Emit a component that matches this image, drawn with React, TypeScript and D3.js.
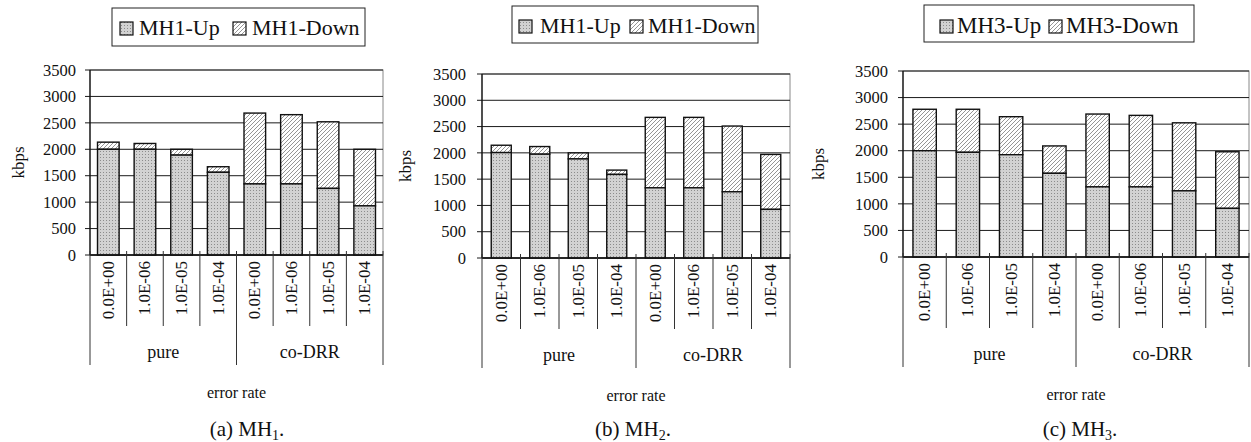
import React from "react";
import * as d3 from "d3";

const categories = ["0.0E+00", "1.0E-06", "1.0E-05", "1.0E-04", "0.0E+00", "1.0E-06", "1.0E-05", "1.0E-04"];
const groups = ["pure", "co-DRR"];
const yTicks = [0, 500, 1000, 1500, 2000, 2500, 3000, 3500];

const mh1Up = [2000, 2000, 1890, 1565, 1345, 1345, 1260, 930];
const mh1Down = [135, 110, 110, 105, 1340, 1310, 1260, 1070];
const mh2Up = [2005, 1975, 1885, 1590, 1335, 1335, 1260, 925];
const mh2Down = [140, 145, 115, 82, 1340, 1340, 1250, 1045];
const mh3Up = [2000, 1970, 1925, 1575, 1320, 1320, 1245, 915];
const mh3Down = [780, 810, 715, 515, 1370, 1345, 1280, 1065];

const legendA = ["MH1-Up", "MH1-Down"];
const legendB = ["MH1-Up", "MH1-Down"];
const legendC = ["MH3-Up", "MH3-Down"];

const SERIF = '"Liberation Serif", "Times New Roman", "DejaVu Serif", serif';
const fs = (size: number): React.CSSProperties => ({ fontFamily: SERIF, fontSize: `${size}px` });

type PanelCfg = {
  up: number[];
  down: number[];
  legend: string[];
  letter: string;
  sub: string;
  left: number;
  right: number;
  top: number;
  bottom: number;
  pad: number;
  legendBox: { x: number; y: number; w: number; h: number };
  legendItems: number[];
  legendText: number[];
  legendFont: number;
  legendBase: number;
  ylabX: number;
  tickRight: number;
  captionX: number;
};

function Panel({ c }: { c: PanelCfg }) {
  const y = d3.scaleLinear().domain([0, 3500]).range([c.bottom, c.top]);
  const x = d3
    .scaleBand<number>()
    .domain(d3.range(categories.length))
    .range([c.left, c.right])
    .paddingInner(c.pad)
    .paddingOuter(c.pad / 2);
  const step = (c.right - c.left) / categories.length;
  const groupSize = categories.length / groups.length;
  const swatch = 13;
  return (
    <g>
      <rect x={c.legendBox.x} y={c.legendBox.y} width={c.legendBox.w} height={c.legendBox.h} fill="white" stroke="#222" strokeWidth={1} />
      {c.legend.map((t, i) => (
        <g key={t}>
          <rect x={c.legendItems[i]} y={c.legendBase - swatch} width={swatch} height={swatch} fill={i === 0 ? "url(#dots)" : "url(#hatch)"} stroke="#111" strokeWidth={1.2} />
          <text x={c.legendText[i]} y={c.legendBase} style={fs(c.legendFont)} fill="#111">{t}</text>
        </g>
      ))}
      <rect x={c.left} y={c.top} width={c.right - c.left} height={c.bottom - c.top} fill="white" stroke="#888" strokeWidth={1} />
      {yTicks.map((t) => (
        <g key={t}>
          <line x1={c.left - 5} x2={c.right} y1={y(t)} y2={y(t)} stroke="#1a1a1a" strokeWidth={1} />
          <text x={c.tickRight} y={y(t)} dy="0.35em" textAnchor="end" style={fs(16.5)} fill="#111">{t}</text>
        </g>
      ))}
      <line x1={c.left} x2={c.left} y1={c.top} y2={c.bottom} stroke="#111" strokeWidth={1.3} />
      <text transform={`translate(${c.ylabX},${(c.top + c.bottom) / 2}) rotate(-90)`} textAnchor="middle" dominantBaseline="central" style={fs(17)} fill="#111">kbps</text>
      {categories.map((_, i) => {
        const bx = x(i)!;
        const bw = x.bandwidth();
        const yUp = y(c.up[i]);
        const yTot = y(c.up[i] + c.down[i]);
        return (
          <g key={i}>
            <rect x={bx} y={yTot} width={bw} height={yUp - yTot} fill="url(#hatch)" stroke="#111" strokeWidth={1.4} />
            <rect x={bx} y={yUp} width={bw} height={c.bottom - yUp} fill="url(#dots)" stroke="#111" strokeWidth={1.4} />
          </g>
        );
      })}
      <line x1={c.left} x2={c.right} y1={c.bottom} y2={c.bottom} stroke="#111" strokeWidth={1.3} />
      {d3.range(categories.length + 1).map((i) => {
        const isGroup = i % groupSize === 0;
        const lx = c.left + i * step;
        return <line key={i} x1={lx} x2={lx} y1={c.bottom - 4} y2={c.bottom + (isGroup ? 110 : 71)} stroke="#333" strokeWidth={1} />;
      })}
      {categories.map((t, i) => (
        <text key={i} transform={`translate(${c.left + (i + 0.5) * step},${c.bottom + 6}) rotate(-90)`} textAnchor="end" dominantBaseline="central" style={fs(17)} fill="#111">{t}</text>
      ))}
      {groups.map((g, gi) => (
        <text key={g} x={c.left + (gi + 0.5) * groupSize * step} y={c.bottom + 103} textAnchor="middle" style={fs(18)} fill="#111">{g}</text>
      ))}
      <text x={(c.left + c.right) / 2} y={c.bottom + 143} textAnchor="middle" style={fs(16)} fill="#111">error rate</text>
      <text x={c.captionX} y={436} textAnchor="middle" style={fs(21)} fill="#111">
        {`(${c.letter}) MH`}
        <tspan style={{ fontSize: "14px" }} dy={4}>{c.sub}</tspan>
        <tspan dy={-4}>.</tspan>
      </text>
    </g>
  );
}

const panels: PanelCfg[] = [
  {
    up: mh1Up, down: mh1Down, legend: legendA, letter: "a", sub: "1",
    left: 90, right: 383, top: 70, bottom: 255, pad: 0.41,
    legendBox: { x: 112, y: 8, w: 253, h: 38 }, legendItems: [120, 233], legendText: [139, 252], legendFont: 22, legendBase: 35,
    ylabX: 18, tickRight: 76, captionX: 247,
  },
  {
    up: mh2Up, down: mh2Down, legend: legendB, letter: "b", sub: "2",
    left: 482, right: 790, top: 74, bottom: 258, pad: 0.48,
    legendBox: { x: 512, y: 6, w: 246, h: 37 }, legendItems: [519, 630], legendText: [540, 648], legendFont: 22, legendBase: 33,
    ylabX: 405, tickRight: 466, captionX: 633,
  },
  {
    up: mh3Up, down: mh3Down, legend: legendC, letter: "c", sub: "3",
    left: 903, right: 1249, top: 71, bottom: 257, pad: 0.46,
    legendBox: { x: 924, y: 5, w: 270, h: 37 }, legendItems: [940, 1049], legendText: [957, 1066], legendFont: 23, legendBase: 33,
    ylabX: 818, tickRight: 888, captionX: 1080,
  },
];

export default function App() {
  return (
    <svg width={1251} height={442} style={{ position: "absolute", left: 0, top: 0, background: "white", fontFamily: SERIF }}>
      <defs>
        <pattern id="dots" width={3} height={3} patternUnits="userSpaceOnUse">
          <rect width={3} height={3} fill="#d2d2d2" />
          <rect x={1} y={1} width={1} height={1} fill="#8c8c8c" />
        </pattern>
        <pattern id="hatch" width={4} height={4} patternUnits="userSpaceOnUse">
          <rect width={4} height={4} fill="white" />
          <path d="M0,4 L4,0 M-1,1 L1,-1 M3,5 L5,3" stroke="#7a7a7a" strokeWidth={0.8} />
        </pattern>
      </defs>
      <rect width={1251} height={442} fill="white" />
      {panels.map((p) => (
        <Panel key={p.letter} c={p} />
      ))}
    </svg>
  );
}
